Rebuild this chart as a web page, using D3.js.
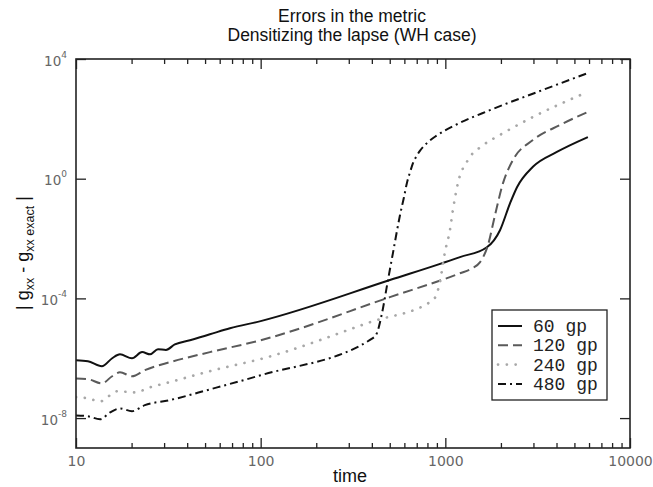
<!DOCTYPE html>
<html><head><meta charset="utf-8">
<script src="https://cdn.jsdelivr.net/npm/d3@7"></script>
<style>body{margin:0;background:#fff}svg{display:block}</style>
</head><body>
<svg id="c" width="653" height="487"></svg>
<script>
// ---- data ----
const seriesNames = ["60 gp", "120 gp", "240 gp", "480 gp"];

const time60 = [10, 11.6, 13.8, 15.7, 17.3, 20.1, 22.8, 25.2, 27.8, 30.7, 34.3, 41.4, 53.1, 68.2, 100, 501, 1200, 1679, 1977, 2240, 2444, 2980, 4018, 5915];
const err60  = [8.5e-7, 7.9e-7, 5.4e-7, 1.0e-6, 1.35e-6, 1.0e-6, 1.6e-6, 1.35e-6, 2.0e-6, 1.9e-6, 2.9e-6, 4.0e-6, 6.3e-6, 1.0e-5, 1.74e-5, 4.1e-4, 2.4e-3, 5.1e-3, 1.9e-2, 0.15, 0.52, 2.5, 7.8, 24.5];

const time120 = [10, 11.6, 13.8, 15.7, 17.3, 20.1, 23.6, 32.3, 53.1, 100, 501, 1200, 1393, 1538, 1701, 1857, 2053, 2323, 2980, 4169, 5915];
const err120  = [2.1e-7, 2.0e-7, 1.45e-7, 2.5e-7, 3.4e-7, 2.5e-7, 4.0e-7, 7.4e-7, 1.6e-6, 4.0e-6, 1.1e-4, 6.9e-4, 1.0e-3, 1.6e-3, 6.0e-3, 6.0e-2, 0.71, 4.2, 19.5, 62, 170];

const time240 = [10, 11.6, 13.5, 15.3, 16.7, 20.8, 25.2, 32.3, 53.1, 108, 391, 857, 935, 995, 1059, 1099, 1170, 1325, 1598, 1977, 2980, 5915];
const err240  = [5.0e-8, 4.6e-8, 3.6e-8, 5.8e-8, 7.9e-8, 7.2e-8, 1.07e-7, 1.6e-7, 3.7e-7, 1.07e-6, 1.6e-5, 8.7e-5, 3.5e-4, 3.5e-3, 1.9e-2, 8.9e-2, 0.71, 4.2, 13, 29, 115, 800];

const time480 = [10, 11.6, 13.5, 15.3, 17.3, 20.1, 23.6, 32.3, 53.1, 100, 405, 426, 454, 489, 520, 568, 597, 619, 645, 668, 700, 728, 800, 901, 1157, 1742, 3251, 5915];
const err480  = [1.23e-8, 1.15e-8, 9.1e-9, 1.55e-8, 2.1e-8, 1.7e-8, 2.7e-8, 4.0e-8, 9.1e-8, 2.7e-7, 4.7e-6, 6.9e-6, 3.2e-5, 4.1e-4, 3.2e-3, 6.0e-2, 0.24, 0.71, 1.7, 3.3, 5.8, 8.5, 16, 28, 66, 195, 850, 3400];

const xMajorTicks = [10, 100, 1000, 10000];
const xTickLabels = ["10", "100", "1000", "10000"];
const xMinorTicks = [20,30,40,50,60,70,80,90,200,300,400,500,600,700,800,900,2000,3000,4000,5000,6000,7000,8000,9000];
const yTicks = [1e-8, 1e-4, 1e0, 1e4];
const yTickExponents = ["-8", "-4", "0", "4"];

const titleLines = ["Errors in the metric", "Densitizing the lapse (WH case)"];
const xTitle = "time";

// ---- styles ----
const styles = [
  {stroke: "#111", width: 2.0, dash: null, cap: "butt"},
  {stroke: "#5a5a5a", width: 2.0, dash: "10,5", cap: "butt"},
  {stroke: "#a8a8a8", width: 2.7, dash: "0.1,8.7", cap: "round"},
  {stroke: "#111", width: 2.0, dash: "8,4,2,4", cap: "butt"}
];

const svg = d3.select("#c");
const L = 76, R = 630, T = 59, B = 448;
const x = d3.scaleLog().domain([10, 10000]).range([L, R]);
const y = d3.scaleLog().domain([1e-9, 1e4]).range([B, T]);

svg.append("defs").append("clipPath").attr("id", "clip")
  .append("rect").attr("x", L).attr("y", T).attr("width", R - L).attr("height", B - T);

// lines
const series = [
  {t: time60, v: err60},
  {t: time120, v: err120},
  {t: time240, v: err240},
  {t: time480, v: err480}
];
const line = d3.line().x(d => x(d[0])).y(d => y(d[1])).curve(d3.curveMonotoneX);
const gLines = svg.append("g").attr("clip-path", "url(#clip)");
series.forEach((s, i) => {
  const pts = s.t.map((t, k) => [t, s.v[k]]);
  const st = styles[i];
  gLines.append("path").datum(pts).attr("d", line)
    .attr("fill", "none").attr("stroke", st.stroke).attr("stroke-width", st.width)
    .attr("stroke-dasharray", st.dash).attr("stroke-linecap", st.cap)
    .attr("stroke-linejoin", "round");
});

// axes
const axColor = "#222";
function styleAxis(g) {
  g.select(".domain").remove();
  g.selectAll("line").attr("stroke", axColor).attr("stroke-width", 1.3);
}
// bottom
const gB = svg.append("g").attr("transform", `translate(0,${B})`);
gB.call(d3.axisBottom(x).tickValues(xMajorTicks).tickSize(-10).tickFormat((d, i) => xTickLabels[i]).tickPadding(8));
styleAxis(gB);
gB.selectAll("text").attr("font-family", "DejaVu Sans, sans-serif").attr("font-size", 14).attr("fill", "#666");
const gBm = svg.append("g").attr("transform", `translate(0,${B})`);
gBm.call(d3.axisBottom(x).tickValues(xMinorTicks).tickSize(-5).tickFormat(""));
styleAxis(gBm);
// top
const gT = svg.append("g").attr("transform", `translate(0,${T})`);
gT.call(d3.axisTop(x).tickValues(xMajorTicks).tickSize(-10).tickFormat(""));
styleAxis(gT);
const gTm = svg.append("g").attr("transform", `translate(0,${T})`);
gTm.call(d3.axisTop(x).tickValues(xMinorTicks).tickSize(-5).tickFormat(""));
styleAxis(gTm);
// left
const gL = svg.append("g").attr("transform", `translate(${L},0)`);
gL.call(d3.axisLeft(y).tickValues(yTicks).tickSize(-10).tickFormat(""));
styleAxis(gL);
gL.selectAll(".tick").each(function(d, i) {
  const t = d3.select(this).append("text")
    .attr("x", -9).attr("y", 6).attr("text-anchor", "end")
    .attr("font-family", "DejaVu Sans, sans-serif").attr("font-size", 13.5).attr("fill", "#666");
  t.append("tspan").text("10");
  t.append("tspan").attr("dy", -8).attr("font-size", 9).text(yTickExponents[i]);
});
// right
const gR = svg.append("g").attr("transform", `translate(${R},0)`);
gR.call(d3.axisRight(y).tickValues(yTicks).tickSize(-10).tickFormat(""));
styleAxis(gR);

// frame
svg.append("rect").attr("x", L).attr("y", T).attr("width", R - L).attr("height", B - T)
  .attr("fill", "none").attr("stroke", axColor).attr("stroke-width", 1.6);

// titles
const title = svg.append("text").attr("text-anchor", "middle")
  .attr("font-family", "Liberation Sans, Arial, sans-serif").attr("font-size", 17.5).attr("fill", "#111");
title.append("tspan").attr("x", 352).attr("y", 22).text(titleLines[0]);
title.append("tspan").attr("x", 352).attr("y", 41).text(titleLines[1]);

svg.append("text").attr("x", 350).attr("y", 482).attr("text-anchor", "middle")
  .attr("font-family", "Liberation Sans, Arial, sans-serif").attr("font-size", 18).attr("fill", "#111")
  .text(xTitle);

// y title
const yt = svg.append("text").attr("transform", "translate(29,253) rotate(-90)")
  .attr("text-anchor", "middle")
  .attr("font-family", "Liberation Sans, Arial, sans-serif").attr("font-size", 18).attr("fill", "#111");
yt.append("tspan").text("| g");
yt.append("tspan").attr("dy", 5).attr("font-size", 12.5).text("xx");
yt.append("tspan").attr("dy", -5).text(" - g");
yt.append("tspan").attr("dy", 5).attr("font-size", 12.5).text("xx exact");
yt.append("tspan").attr("dy", -5).text(" |");

// legend
const lg = svg.append("g");
const lgX = 492, lgY = 310, lgW = 115, lgH = 90;
lg.append("rect").attr("x", lgX).attr("y", lgY).attr("width", lgW).attr("height", lgH)
  .attr("fill", "#fff").attr("stroke", "#222").attr("stroke-width", 1.3);
seriesNames.forEach((name, i) => {
  const yy = lgY + 16 + i * 19.3;
  const st = styles[i];
  lg.append("line").attr("x1", lgX + 6).attr("x2", lgX + 30).attr("y1", yy).attr("y2", yy)
    .attr("stroke", st.stroke).attr("stroke-width", st.width)
    .attr("stroke-dasharray", st.dash).attr("stroke-linecap", st.cap);
  lg.append("text").attr("x", lgX + 41).attr("y", yy + 6)
    .attr("font-family", "Liberation Mono, Courier New, monospace").attr("font-size", 18).attr("fill", "#222")
    .text(name);
});
</script>
</body></html>
